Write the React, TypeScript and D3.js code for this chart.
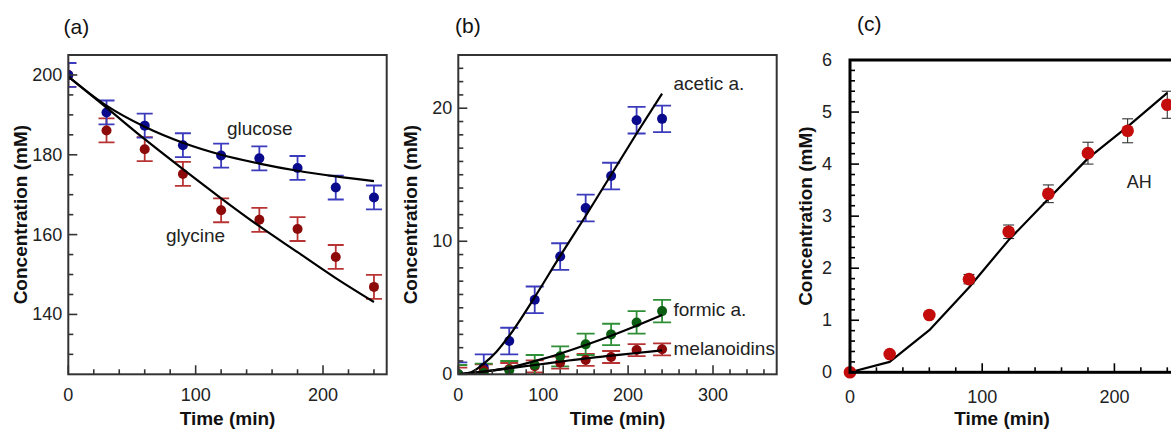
import React from 'react';
import * as d3 from 'd3';

const FONT = "'Liberation Sans', Arial, Helvetica, sans-serif";

// ---------- shared sampling times ----------
const time = [0, 30, 60, 90, 120, 150, 180, 210, 240];

// ---------- panel (a) ----------
const glucose = [200, 190.6, 187.3, 182.4, 179.8, 179.1, 176.7, 171.8, 169.3];
const glucoseErr = [3, 3, 3, 3, 3, 3, 3, 3, 3];
const glycine = [200, 186.1, 181.4, 175.2, 166.1, 163.7, 161.4, 154.4, 146.9];
const glycineErr = [3, 3, 3, 3, 3, 3, 3, 3, 3];
const glucoseFit = [199.6, 192.3, 187.0, 183.0, 180.0, 177.8, 176.0, 174.6, 173.4];
const glycineFit = [199.6, 191.8, 183.9, 176.4, 169.1, 162.1, 155.6, 149.1, 143.1];
const xTickLabelsA = [0, 100, 200];
const yTickLabelsA = [140, 160, 180, 200];

// ---------- panel (b) ----------
const acetic = [0, 0.5, 2.5, 5.6, 8.85, 12.5, 14.9, 19.1, 19.2];
const aceticErr = [0.9, 1, 1, 1, 1, 1, 1, 1, 1];
const formic = [0, 0.1, 0.3, 0.7, 1.35, 2.25, 3.0, 3.9, 4.75];
const formicErr = [0.7, 0.7, 0.7, 0.75, 0.75, 0.8, 0.8, 0.85, 0.85];
const melanoidins = [0, 0.3, 0.4, 0.6, 0.88, 1.08, 1.3, 1.82, 1.88];
const melanoidinsErr = [0.5, 0.45, 0.45, 0.45, 0.45, 0.45, 0.45, 0.45, 0.45];
const aceticFitTime = [0, 15, 30, 45, 60, 90, 120, 150, 180, 210, 240];
const aceticFit = [0, 0.15, 0.8, 1.7, 2.9, 5.8, 8.9, 11.9, 15.0, 18.1, 21.1];
const formicFit = [0, 0.2, 0.5, 1.0, 1.55, 2.2, 2.9, 3.65, 4.45];
const melanoidinsFit = [0, 0.2, 0.45, 0.7, 0.95, 1.2, 1.4, 1.6, 1.8];
const xTickLabelsB = [0, 100, 200, 300];
const yTickLabelsB = [0, 10, 20];

// ---------- panel (c) ----------
const ah = [0, 0.35, 1.1, 1.79, 2.7, 3.43, 4.21, 4.64, 5.14];
const ahErr = [0, 0, 0, 0.09, 0.13, 0.17, 0.21, 0.23, 0.26];
const ahFit = [0, 0.2, 0.81, 1.63, 2.54, 3.33, 4.11, 4.72, 5.37];
const xTickLabelsC = [0, 100, 200];
const yTickLabelsC = [0, 1, 2, 3, 4, 5, 6];

type Series = { t: number[]; v: number[]; e: number[]; dot: string; bar: string; r: number; cap: number; bw: number };
type Fit = { t: number[]; v: number[]; curve: d3.CurveFactory };
type Note = { text: string; x: number; y: number; size: number };

type PanelProps = {
  id: string;
  left: number; top: number; right: number; bottom: number;
  xMax: number; yDomain: [number, number];
  xMajor: number[]; xMinor: number[]; yMajor: number[]; yMinor: number[];
  frameColor: string; frameWidth: number;
  clip: boolean;
  labelGapY: number; labelDyX: number;
  series: Series[]; fits: Fit[]; notes: Note[];
  lineOnTop: boolean;
  yTitleX: number; xTitleX: number;
  panel: { text: string; x: number; y: number };
};

function Panel(p: PanelProps) {
  const x = d3.scaleLinear().domain([0, p.xMax]).range([p.left, p.right]);
  const y = d3.scaleLinear().domain(p.yDomain).range([p.bottom, p.top]);
  const clipId = `clip-${p.id}`;
  const tickColor = p.frameColor;

  const errorBars = p.series.map((s, si) => (
    <g key={`e${si}`} stroke={s.bar} strokeWidth={s.bw} fill="none">
      {s.t.map((t, i) => {
        if (!s.e[i]) return null;
        const cx = x(t);
        const y1 = y(s.v[i] + s.e[i]);
        const y2 = y(s.v[i] - s.e[i]);
        return (
          <g key={i}>
            <line x1={cx} x2={cx} y1={y1} y2={y2} />
            <line x1={cx - s.cap} x2={cx + s.cap} y1={y1} y2={y1} />
            <line x1={cx - s.cap} x2={cx + s.cap} y1={y2} y2={y2} />
          </g>
        );
      })}
    </g>
  ));

  const dots = p.series.map((s, si) => (
    <g key={`d${si}`} fill={s.dot}>
      {s.t.map((t, i) => (
        <circle key={i} cx={x(t)} cy={y(s.v[i])} r={s.r} />
      ))}
    </g>
  ));

  const lines = p.fits.map((f, fi) => {
    const gen = d3
      .line<number>()
      .x((_, i) => x(f.t[i]))
      .y((v) => y(v))
      .curve(f.curve);
    return <path key={`f${fi}`} d={gen(f.v) || ''} fill="none" stroke="#000" strokeWidth={2.2} strokeLinejoin="round" />;
  });

  const tickLenMajor = 9;
  const tickLenMinor = 5;

  return (
    <g>
      <defs>
        <clipPath id={clipId}>
          <rect x={p.left} y={p.top} width={p.right - p.left} height={p.bottom - p.top} />
        </clipPath>
      </defs>
      <g clipPath={p.clip ? `url(#${clipId})` : undefined}>
        {errorBars}
        {p.lineOnTop ? dots : lines}
        {p.lineOnTop ? lines : dots}
      </g>
      {/* ticks */}
      <g stroke={tickColor} strokeWidth={1.6}>
        {p.yMajor.map((v) => (
          <line key={`ym${v}`} x1={p.left} x2={p.left + tickLenMajor} y1={y(v)} y2={y(v)} />
        ))}
        {p.yMinor.map((v) => (
          <line key={`yn${v}`} x1={p.left} x2={p.left + tickLenMinor} y1={y(v)} y2={y(v)} />
        ))}
        {p.xMajor.map((v) => (
          <line key={`xm${v}`} x1={x(v)} x2={x(v)} y1={p.bottom} y2={p.bottom - tickLenMajor} />
        ))}
        {p.xMinor.map((v) => (
          <line key={`xn${v}`} x1={x(v)} x2={x(v)} y1={p.bottom} y2={p.bottom - tickLenMinor} />
        ))}
      </g>
      <rect
        x={p.left}
        y={p.top}
        width={p.right - p.left}
        height={p.bottom - p.top}
        fill="none"
        stroke={p.frameColor}
        strokeWidth={p.frameWidth}
      />
      {/* tick labels */}
      <g fontFamily={FONT} fontSize={18} fill="#222">
        {p.yMajor.map((v) => (
          <text key={`yl${v}`} x={p.left - p.labelGapY} y={y(v)} textAnchor="end" dominantBaseline="central">
            {v}
          </text>
        ))}
        {p.xMajor.map((v) => (
          <text key={`xl${v}`} x={x(v)} y={p.bottom + p.labelDyX} textAnchor="middle" dominantBaseline="central">
            {v}
          </text>
        ))}
      </g>
      {/* axis titles */}
      <text
        x={p.xTitleX}
        y={418}
        textAnchor="middle"
        dominantBaseline="central"
        fontFamily={FONT}
        fontSize={19}
        fontWeight="bold"
        fill="#111"
      >
        Time (min)
      </text>
      <text
        transform={`translate(${p.yTitleX},${(p.top + p.bottom) / 2}) rotate(-90)`}
        textAnchor="middle"
        dominantBaseline="central"
        fontFamily={FONT}
        fontSize={19}
        fontWeight="bold"
        fill="#111"
      >
        Concentration (mM)
      </text>
      {/* annotations */}
      {p.notes.map((n) => (
        <text key={n.text} x={n.x} y={n.y} fontFamily={FONT} fontSize={n.size} fill="#222">
          {n.text}
        </text>
      ))}
      <text x={p.panel.x} y={p.panel.y} fontFamily={FONT} fontSize={21} fill="#111" dominantBaseline="central">
        {p.panel.text}
      </text>
    </g>
  );
}

const without = (arr: number[], skip: number[]) => arr.filter((v) => !skip.some((s) => Math.abs(s - v) < 1e-9));

export default function App() {
  const blueDot = '#0a0a8c';
  const blueBar = '#3b3bbd';
  const redDot = '#8c0a0a';
  const redBar = '#b83434';
  const greenDot = '#0b5e12';
  const greenBar = '#2f8f36';

  return (
    <svg
      width={1171}
      height={429}
      viewBox="0 0 1171 429"
      style={{ position: 'absolute', left: 0, top: 0, background: '#fff' }}
    >
      <rect x={0} y={0} width={1171} height={429} fill="#fff" />
      <Panel
        id="a"
        left={68.3}
        top={55}
        right={386.7}
        bottom={374.3}
        xMax={250}
        yDomain={[125, 205]}
        xMajor={xTickLabelsA}
        xMinor={without(d3.range(20, 250, 20), xTickLabelsA)}
        yMajor={yTickLabelsA}
        yMinor={without(d3.range(130, 205, 5), yTickLabelsA)}
        frameColor="#333"
        frameWidth={2}
        clip={true}
        labelGapY={6}
        labelDyX={21}
        series={[
          { t: time, v: glycine, e: glycineErr, dot: redDot, bar: redBar, r: 5, cap: 8, bw: 1.8 },
          { t: time, v: glucose, e: glucoseErr, dot: blueDot, bar: blueBar, r: 5, cap: 8, bw: 1.8 },
        ]}
        fits={[
          { t: time, v: glucoseFit, curve: d3.curveMonotoneX },
          { t: time, v: glycineFit, curve: d3.curveMonotoneX },
        ]}
        notes={[
          { text: 'glucose', x: 227, y: 135, size: 19 },
          { text: 'glycine', x: 166, y: 242, size: 19 },
        ]}
        lineOnTop={true}
        yTitleX={20}
        xTitleX={227.5}
        panel={{ text: '(a)', x: 63.5, y: 26 }}
      />
      <Panel
        id="b"
        left={458.3}
        top={55}
        right={776.7}
        bottom={374.3}
        xMax={375}
        yDomain={[0, 24]}
        xMajor={xTickLabelsB}
        xMinor={without(d3.range(20, 375, 20), xTickLabelsB)}
        yMajor={yTickLabelsB}
        yMinor={without(d3.range(1, 24, 1), yTickLabelsB)}
        frameColor="#333"
        frameWidth={2}
        clip={true}
        labelGapY={6}
        labelDyX={21}
        series={[
          { t: time, v: acetic, e: aceticErr, dot: blueDot, bar: blueBar, r: 5, cap: 9, bw: 1.8 },
          { t: time, v: melanoidins, e: melanoidinsErr, dot: redDot, bar: redBar, r: 5, cap: 9, bw: 1.8 },
          { t: time, v: formic, e: formicErr, dot: greenDot, bar: greenBar, r: 5, cap: 9, bw: 1.8 },
        ]}
        fits={[
          { t: aceticFitTime, v: aceticFit, curve: d3.curveMonotoneX },
          { t: time, v: formicFit, curve: d3.curveMonotoneX },
          { t: time, v: melanoidinsFit, curve: d3.curveMonotoneX },
        ]}
        notes={[
          { text: 'acetic a.', x: 673.5, y: 90, size: 19 },
          { text: 'formic a.', x: 673.5, y: 316, size: 19 },
          { text: 'melanoidins', x: 673.5, y: 355, size: 19 },
        ]}
        lineOnTop={true}
        yTitleX={410}
        xTitleX={617.5}
        panel={{ text: '(b)', x: 455, y: 25 }}
      />
      <Panel
        id="c"
        left={850}
        top={60}
        right={850 + 250 * 1.322}
        bottom={372.3}
        xMax={250}
        yDomain={[0, 6]}
        xMajor={xTickLabelsC}
        xMinor={without(d3.range(20, 250, 20), xTickLabelsC)}
        yMajor={yTickLabelsC}
        yMinor={without(d3.range(0.2, 6, 0.2).map((v) => Math.round(v * 10) / 10), yTickLabelsC)}
        frameColor="#000"
        frameWidth={3}
        clip={false}
        labelGapY={18}
        labelDyX={25}
        series={[{ t: time, v: ah, e: ahErr, dot: '#c40c0c', bar: '#333', r: 6.3, cap: 5.5, bw: 1.1 }]}
        fits={[{ t: time, v: ahFit, curve: d3.curveLinear }]}
        notes={[{ text: 'AH', x: 1126.7, y: 188, size: 18 }]}
        lineOnTop={false}
        yTitleX={805}
        xTitleX={1002}
        panel={{ text: '(c)', x: 857, y: 23.5 }}
      />
    </svg>
  );
}
